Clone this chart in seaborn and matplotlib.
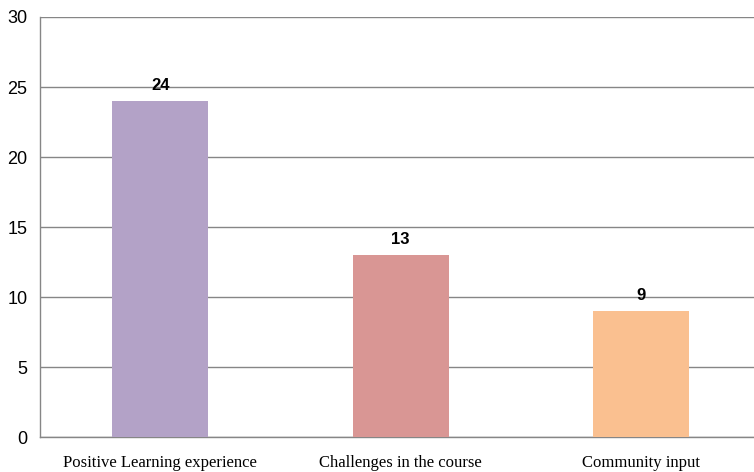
import matplotlib
matplotlib.use("Agg")
import matplotlib.pyplot as plt
import seaborn as sns
import pandas as pd
from matplotlib.ticker import FixedLocator

categories = ["Positive Learning experience", "Challenges in the course", "Community input"]
counts = [24, 13, 9]
colors = ["#B3A2C7", "#D99694", "#FAC090"]
y_ticks = [0, 5, 10, 15, 20, 25, 30]

sns.set_style("white")

df = pd.DataFrame({"category": categories, "count": counts})

fig = plt.figure(figsize=(7.54, 4.72), dpi=100)
ax = fig.add_axes([0.053, 0.074, 0.947, 0.89])

sns.barplot(data=df, x="category", y="count", hue="category", palette=colors,
            width=0.4, legend=False, ax=ax, saturation=1, zorder=3,
            linewidth=0, edgecolor="none")

grid_color = "#868686"
ax.set_ylim(0, 30)
ax.set_xlim(-0.5, 2.47)
ax.set_yticks(y_ticks)
ax.yaxis.grid(True, color=grid_color, linewidth=1.0, zorder=0)
ax.set_axisbelow(True)

for side in ["top", "right"]:
    ax.spines[side].set_visible(False)
for side in ["left", "bottom"]:
    ax.spines[side].set_color(grid_color)
    ax.spines[side].set_linewidth(1.0)

ax.set_xlabel("")
ax.set_ylabel("")
ax.tick_params(axis="y", which="major", length=5, color=grid_color, width=1.0,
               labelsize=13, pad=4, labelcolor="black")
for t in ax.get_yticklabels():
    t.set_fontfamily("Liberation Sans")
ax.tick_params(axis="x", which="major", length=0, pad=13, labelcolor="black")
ax.xaxis.set_minor_locator(FixedLocator([-0.5, 0.5, 1.5]))
ax.tick_params(axis="x", which="minor", length=5, color=grid_color, width=1.0)
for t in ax.get_xticklabels():
    t.set_fontfamily("Liberation Serif")
    t.set_fontsize(12)

for container in ax.containers:
    ax.bar_label(container, fmt="%d", padding=6, fontsize=12, color="black",
                 fontweight="bold", fontfamily="Liberation Sans")

fig.savefig("out.png", dpi=100, facecolor="white")
